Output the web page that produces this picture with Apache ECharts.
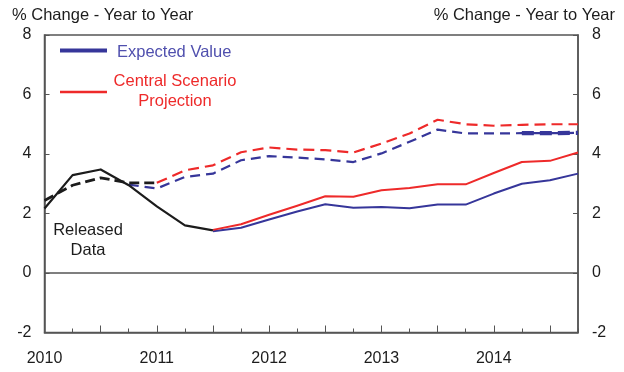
<!DOCTYPE html>
<html>
<head>
<meta charset="utf-8">
<script src="https://cdn.jsdelivr.net/npm/echarts@6/dist/echarts.min.js"></script>
<style>
  html, body { margin: 0; padding: 0; background: #fff; }
  #chart { width: 624px; height: 372px; }
</style>
</head>
<body>
<div id="chart"></div>
<script>
// Quarterly observations, 2010 Q1 .. 2014 Q4
const quarters = [
  '2010Q1','2010Q2','2010Q3','2010Q4',
  '2011Q1','2011Q2','2011Q3','2011Q4',
  '2012Q1','2012Q2','2012Q3','2012Q4',
  '2013Q1','2013Q2','2013Q3','2013Q4',
  '2014Q1','2014Q2','2014Q3','2014Q4'
];

// y-axis ticks
const yTicks = { min: -2, max: 8, step: 2 };

// Released data (history)
const releasedSolid  = [2.17, 3.29, 3.48, 2.95, 2.24, 1.60, 1.43, null, null, null, null, null, null, null, null, null, null, null, null, null];
const releasedDashed = [2.44, 2.95, 3.20, 3.03, 3.03, null, null, null, null, null, null, null, null, null, null, null, null, null, null, null];

// Expected value path
const expectedSolid  = [null, null, null, null, null, null, 1.40, 1.52, 1.80, 2.07, 2.31, 2.19, 2.22, 2.18, 2.30, 2.30, 2.67, 3.00, 3.12, 3.34];
const expectedDashed = [null, null, null, 2.97, 2.84, 3.23, 3.34, 3.79, 3.93, 3.88, 3.82, 3.73, 4.02, 4.41, 4.82, 4.69, 4.69, 4.70, 4.70, 4.71];
const expectedDashedTail = [null, null, null, null, null, null, null, null, null, null, null, null, null, null, null, null, null, 4.70, 4.70, 4.71];

// Central scenario projection
const centralSolid  = [null, null, null, null, null, null, 1.45, 1.64, 1.96, 2.26, 2.58, 2.56, 2.78, 2.86, 2.98, 2.98, 3.36, 3.73, 3.77, 4.05];
const centralDashed = [null, null, null, null, 3.03, 3.45, 3.62, 4.06, 4.22, 4.15, 4.13, 4.05, 4.35, 4.69, 5.15, 5.00, 4.95, 4.98, 5.00, 5.00];

const FONT = "'Liberation Sans', Arial, sans-serif";
const BLUE = '#36369a';
const RED = '#ee2a2a';
const BLACK = '#1c1c1c';
const AXIS = '#555555';

function lineSeries(name, data, color, width, type, z) {
  return {
    name: name,
    type: 'line',
    data: data,
    showSymbol: false,
    symbol: 'none',
    connectNulls: false,
    silent: true,
    z: z,
    lineStyle: { color: color, width: width, type: type, cap: 'butt', join: 'round' }
  };
}

const yAxisBase = {
  type: 'value',
  min: yTicks.min,
  max: yTicks.max,
  interval: yTicks.step,
  splitLine: { show: false },
  axisLine: { show: true, lineStyle: { color: AXIS, width: 1.5 } },
  axisTick: { show: true, inside: true, length: 5, lineStyle: { color: AXIS, width: 1 } }
};

const chart = echarts.init(document.getElementById('chart'), null, { renderer: 'canvas' });

chart.setOption({
  animation: false,
  backgroundColor: '#ffffff',
  grid: {
    left: 44.5, right: 46, top: 35, bottom: 39.5,
    show: true, borderColor: AXIS, borderWidth: 1.5, backgroundColor: 'transparent'
  },
  xAxis: [
    {
      type: 'category',
      data: quarters,
      boundaryGap: false,
      axisLine: { show: true, onZero: false, lineStyle: { color: AXIS, width: 1.5 } },
      axisTick: { show: true, inside: true, length: 4, interval: 0, lineStyle: { color: AXIS, width: 1 } },
      axisLabel: {
        interval: 3,
        margin: 18,
        color: BLACK,
        fontFamily: FONT,
        fontSize: 16,
        formatter: function (v) { return v.slice(0, 4); }
      },
      splitLine: { show: false }
    },
    {
      type: 'category',
      data: quarters,
      boundaryGap: false,
      position: 'bottom',
      axisLine: { show: false, onZero: false },
      axisTick: { show: true, inside: true, length: 7, interval: 1, lineStyle: { color: AXIS, width: 1 } },
      axisLabel: { show: false },
      splitLine: { show: false }
    }
  ],
  yAxis: [
    Object.assign({}, yAxisBase, {
      position: 'left',
      axisLabel: { color: BLACK, fontFamily: FONT, fontSize: 16, margin: 13 }
    }),
    Object.assign({}, yAxisBase, {
      position: 'right',
      axisLabel: { color: BLACK, fontFamily: FONT, fontSize: 16, margin: 14 }
    })
  ],
  series: [
    Object.assign(lineSeries('Expected Value (annual)', expectedDashed, BLUE, 2.2, [10, 6], 2), {
      markLine: {
        silent: true,
        symbol: 'none',
        label: { show: false },
        lineStyle: { color: AXIS, width: 1.5, type: 'solid' },
        data: [{ yAxis: 0 }]
      }
    }),
    lineSeries('Central Scenario (annual)', centralDashed, RED, 2.2, [11, 6], 3),
    lineSeries('Expected Value tail', expectedDashedTail, BLUE, 4.2, [12, 6], 3),
    lineSeries('Expected Value', expectedSolid, BLUE, 2, 'solid', 4),
    lineSeries('Central Scenario Projection', centralSolid, RED, 2, 'solid', 4),
    lineSeries('Released Data (annual)', releasedDashed, BLACK, 2.8, [10, 5], 5),
    lineSeries('Released Data', releasedSolid, BLACK, 2.2, 'solid', 6)
  ],
  graphic: [
    { type: 'text', left: 12, top: 7,
      style: { text: '% Change - Year to Year', font: '16.5px ' + FONT, fill: BLACK } },
    { type: 'text', right: 9, top: 7,
      style: { text: '% Change - Year to Year', font: '16.5px ' + FONT, fill: BLACK } },
    // legend
    { type: 'line', shape: { x1: 60, y1: 50.5, x2: 107, y2: 50.5 },
      style: { stroke: BLUE, lineWidth: 4 } },
    { type: 'text', x: 117, y: 52, style: { text: 'Expected Value', font: '16.5px ' + FONT, fill: '#5050ae', verticalAlign: 'middle' } },
    { type: 'line', shape: { x1: 60, y1: 92, x2: 107, y2: 92 },
      style: { stroke: RED, lineWidth: 2.5 } },
    { type: 'text', x: 175, y: 81, style: { text: 'Central Scenario', font: '16.5px ' + FONT, fill: RED, align: 'center', verticalAlign: 'middle' } },
    { type: 'text', x: 175, y: 101.5, style: { text: 'Projection', font: '16.5px ' + FONT, fill: RED, align: 'center', verticalAlign: 'middle' } },
    // annotation
    { type: 'text', x: 88, y: 230, style: { text: 'Released', font: '16.5px ' + FONT, fill: BLACK, align: 'center', verticalAlign: 'middle' } },
    { type: 'text', x: 88, y: 250.5, style: { text: 'Data', font: '16.5px ' + FONT, fill: BLACK, align: 'center', verticalAlign: 'middle' } }
  ]
});
</script>
</body>
</html>
